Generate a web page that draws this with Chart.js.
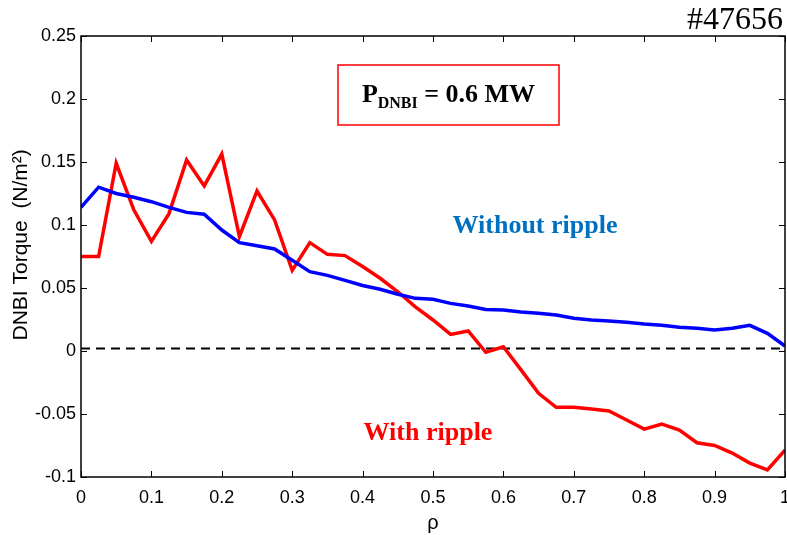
<!DOCTYPE html>
<html lang='en'>
<head>
    <meta charset='UTF-8'>
    <title>DNBI Torque #47656</title>
    <style>
        body {
            margin: 0;
            padding: 0;
            background-color: #fff;
        }
        .chart-container {
            width: 787px;
            height: 535px;
        }
    </style>
</head>
<body>
    <div class='chart-container'>
        <canvas id='torqueChart' width='787' height='535'></canvas>
    </div>

    <script src='https://cdn.jsdelivr.net/npm/chart.js'></script>
    <script>
        // rho grid (0 .. 1, step 0.025)
        const rho = [0, 0.025, 0.05, 0.075, 0.1, 0.125, 0.15, 0.175, 0.2, 0.225,
            0.25, 0.275, 0.3, 0.325, 0.35, 0.375, 0.4, 0.425, 0.45, 0.475,
            0.5, 0.525, 0.55, 0.575, 0.6, 0.625, 0.65, 0.675, 0.7, 0.725,
            0.75, 0.775, 0.8, 0.825, 0.85, 0.875, 0.9, 0.925, 0.95, 0.975, 1];

        const withoutRipple = [0.114, 0.130, 0.125, 0.122, 0.1185, 0.114, 0.110, 0.1085, 0.096, 0.086,
            0.0836, 0.081, 0.072, 0.063, 0.060, 0.056, 0.052, 0.049, 0.045, 0.0418,
            0.041, 0.0378, 0.0357, 0.033, 0.0325, 0.031, 0.030, 0.0286, 0.026, 0.0246,
            0.0238, 0.0228, 0.0214, 0.0204, 0.0188, 0.018, 0.0167, 0.018, 0.0204, 0.014, 0.004];

        const withRipple = [0.075, 0.075, 0.149, 0.112, 0.087, 0.109, 0.1516, 0.131, 0.1563, 0.0907,
            0.127, 0.104, 0.064, 0.086, 0.0767, 0.0757, 0.067, 0.0577, 0.047, 0.035,
            0.0246, 0.0132, 0.0159, -0.001, 0.0034, -0.015, -0.0336, -0.0447, -0.0447, -0.046,
            -0.0476, -0.0548, -0.062, -0.058, -0.0627, -0.0728, -0.075, -0.081, -0.089, -0.0944, -0.0786];

        const zeroLine = [0.002, 0.002];
        const zeroRho = [0, 1];

        const xTicks = [0, 0.1, 0.2, 0.3, 0.4, 0.5, 0.6, 0.7, 0.8, 0.9, 1];
        const yTicks = [-0.1, -0.05, 0, 0.05, 0.1, 0.15, 0.2, 0.25];

        const sans = "'Liberation Sans', Arial, sans-serif";
        const serif = "'Liberation Serif', 'Times New Roman', serif";

        function toPoints(xs, ys) {
            return xs.map((x, i) => ({ x: x, y: ys[i] }));
        }

        // frame, inward ticks on all sides and the text annotations
        const framePlugin = {
            id: 'frame',
            afterDatasetsDraw(chart) {
                const ctx = chart.ctx;
                const a = chart.chartArea;
                const xs = chart.scales.x;
                const ys = chart.scales.y;
                ctx.save();
                ctx.strokeStyle = '#000';
                ctx.lineWidth = 1.5;
                ctx.strokeRect(a.left, a.top, a.right - a.left, a.bottom - a.top);

                ctx.lineWidth = 1;
                const len = 6;
                ctx.beginPath();
                xTicks.forEach(v => {
                    const px = Math.round(xs.getPixelForValue(v)) + 0.5;
                    ctx.moveTo(px, a.bottom); ctx.lineTo(px, a.bottom - len);
                    ctx.moveTo(px, a.top); ctx.lineTo(px, a.top + len);
                });
                yTicks.forEach(v => {
                    const py = Math.round(ys.getPixelForValue(v)) + 0.5;
                    ctx.moveTo(a.left, py); ctx.lineTo(a.left + len, py);
                    ctx.moveTo(a.right, py); ctx.lineTo(a.right - len, py);
                });
                ctx.stroke();

                // shot number
                ctx.fillStyle = '#000';
                ctx.font = '32px ' + serif;
                ctx.textAlign = 'right';
                ctx.textBaseline = 'alphabetic';
                ctx.fillText('#47656', 783, 29);

                // power box
                ctx.strokeStyle = '#ff0000';
                ctx.lineWidth = 1.5;
                ctx.strokeRect(338, 65, 221, 60);
                const big = 'bold 26px ' + serif;
                const small = 'bold 16px ' + serif;
                ctx.textAlign = 'left';
                ctx.font = big;
                const wP = ctx.measureText('P').width;
                const wRest = ctx.measureText(' = 0.6 MW').width;
                ctx.font = small;
                const wSub = ctx.measureText('DNBI').width;
                let x0 = 448.5 - (wP + wSub + wRest) / 2;
                ctx.fillStyle = '#000';
                ctx.font = big;
                ctx.fillText('P', x0, 102);
                ctx.font = small;
                ctx.fillText('DNBI', x0 + wP, 108);
                ctx.font = big;
                ctx.fillText(' = 0.6 MW', x0 + wP + wSub, 102);

                // series labels
                ctx.textAlign = 'center';
                ctx.font = 'bold 26px ' + serif;
                ctx.fillStyle = '#0070C0';
                ctx.fillText('Without ripple', 535, 233);
                ctx.fillStyle = '#ff0000';
                ctx.fillText('With ripple', 428, 440);
                ctx.restore();
            }
        };

        const ctx = document.getElementById('torqueChart').getContext('2d');
        new Chart(ctx, {
            type: 'line',
            data: {
                datasets: [{
                    label: 'Without ripple',
                    data: toPoints(rho, withoutRipple),
                    borderColor: '#0000ff',
                    borderWidth: 3.5,
                    pointRadius: 0,
                    tension: 0
                }, {
                    label: 'With ripple',
                    data: toPoints(rho, withRipple),
                    borderColor: '#ff0000',
                    borderWidth: 3.5,
                    pointRadius: 0,
                    tension: 0
                }, {
                    label: 'zero',
                    data: toPoints(zeroRho, zeroLine),
                    borderColor: '#000',
                    borderWidth: 1.8,
                    borderDash: [9, 6],
                    pointRadius: 0
                }]
            },
            options: {
                responsive: false,
                animation: false,
                layout: { padding: { top: 36, right: 2, left: 0, bottom: 0 } },
                plugins: {
                    legend: { display: false },
                    tooltip: { enabled: false }
                },
                scales: {
                    x: {
                        type: 'linear',
                        min: 0,
                        max: 1,
                        grid: { display: false, drawTicks: false, tickLength: 0 },
                        border: { display: false },
                        afterBuildTicks: (scale) => { scale.ticks = xTicks.map(v => ({ value: v })); },
                        afterFit: (scale) => {
                            scale.height = 58;
                            scale.paddingRight = 0;
                        },
                        ticks: {
                            color: '#000',
                            padding: 10,
                            font: { family: sans, size: 18 },
                            callback: (v) => String(+v.toFixed(2))
                        },
                        title: {
                            display: true,
                            text: 'ρ',
                            color: '#000',
                            font: { family: sans, size: 20 },
                            padding: { top: 0, bottom: 0 }
                        }
                    },
                    y: {
                        min: -0.1,
                        max: 0.25,
                        grid: { display: false, drawTicks: false, tickLength: 0 },
                        border: { display: false },
                        afterBuildTicks: (scale) => { scale.ticks = yTicks.map(v => ({ value: v })); },
                        afterFit: (scale) => { scale.width = 81; },
                        ticks: {
                            color: '#000',
                            padding: 5,
                            font: { family: sans, size: 18 },
                            callback: (v) => String(+v.toFixed(2))
                        },
                        title: {
                            display: true,
                            text: '    DNBI Torque  (N/m²)',
                            color: '#000',
                            font: { family: sans, size: 21 },
                            padding: { top: 9, bottom: 0 }
                        }
                    }
                }
            },
            plugins: [framePlugin]
        });
    </script>
</body>
</html>
